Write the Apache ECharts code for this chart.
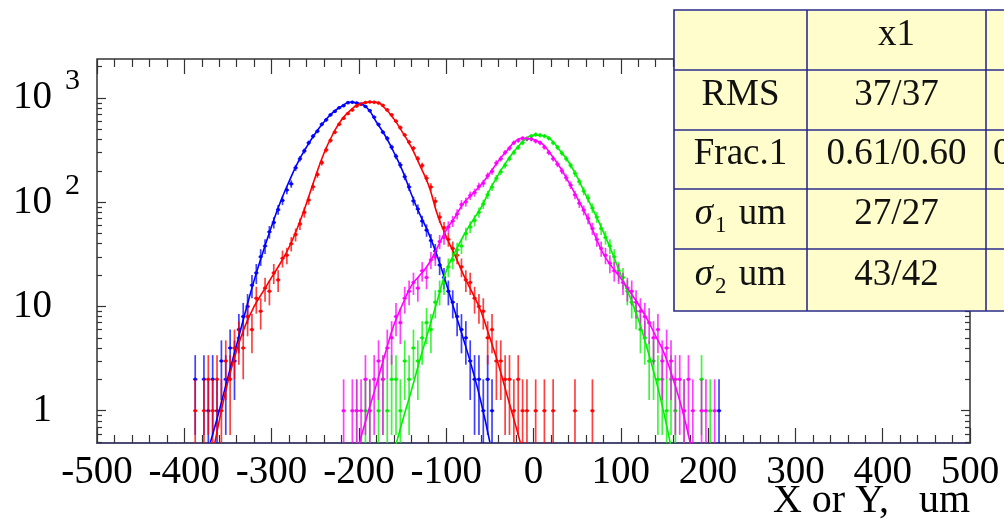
<!DOCTYPE html>
<html>
<head>
<meta charset="utf-8">
<script src="https://cdn.jsdelivr.net/npm/echarts@6/dist/echarts.min.js"></script>
<style>
html, body { margin: 0; padding: 0; background: #fff; }
#chart { width: 1004px; height: 519px; }
</style>
</head>
<body>
<div id="chart"></div>
<script>
// histogram bins are 5 um wide, counts given from the first bin centre
const binWidth = 5;

const blueStart = -387.5;
const blueCounts = [2,0,2,1,2,1,3,2,4,3,6,8,10,16,21,30,38,52,64,85,104,131,150,214,262,311,372,430,481,560,618,690,745,808,846,903,912,896,872,830,757,655,558,470,410,338,276,228,176,140,103,86,66,54,43,34,25,19,14,11,8,6,5,3,2,2,1,2,1];
const blueExtraX = [212.5];
const blueExtraCounts = [1];

const redStart = -387.5;
const redCounts = [1,0,1,2,1,2,1,3,2,4,5,4,8,6,12,9,15,14,21,18,29,31,40,49,62,80,105,141,185,240,318,392,470,560,640,710,768,838,870,905,918,912,896,850,770,690,600,520,442,378,330,262,225,170,140,102,72,57,44,36,31,24,18,17,12,10,9,5,6,3,3,2,2,1,2,1,1,0,1,0,1,0,1,0,0,0,0,1,0,0,0,1];

const greenStart = -202.5;
const greenCounts = [1,0,1,1,0,1,2,1,2,2,1,3,2,4,3,5,7,6,11,14,17,24,28,35,38,50,58,67,80,96,118,140,170,196,226,262,300,336,372,405,430,446,440,432,412,372,336,296,262,226,190,158,128,110,88,72,56,46,38,30,22,19,14,11,9,6,5,3,3,2,2,1,2,1,0,1,0,0,0,2,0,1];

const magentaStart = -217.5;
const magentaCounts = [1,0,1,1,1,2,1,2,3,2,4,5,8,7,12,14,17,15,22,19,28,30,42,46,58,66,77,95,101,116,124,142,152,180,198,238,262,300,330,372,392,410,408,404,386,372,338,300,262,232,200,172,146,118,98,84,70,56,44,36,31,26,22,21,17,15,14,11,9,8,7,5,6,3,4,3,2,2,1,2,1,0,1,1,0,1];

// fitted curves
const blueFitX = [-370,-360,-350,-340,-330,-320,-310,-300,-290,-280,-270,-260,-250,-240,-230,-220,-210,-200,-190,-180,-170,-160,-150,-140,-130,-120,-110,-100,-90,-80,-70,-60,-50];
const blueFitY = [0.5,1.0,2.1,4.3,8.9,17.8,33,59,100,158,240,339,457,589,724,832,912,891,794,589,437,302,200,120,76,50,30,16.6,8.9,4.8,2.5,1.2,0.5];

const redFitX = [-365,-360,-350,-340,-330,-320,-310,-300,-290,-280,-270,-260,-250,-240,-230,-220,-210,-200,-190,-180,-170,-160,-150,-140,-130,-120,-110,-100,-90,-80,-70,-60,-50,-40,-30,-20,-15];
const redFitY = [0.49,0.8,1.9,3.8,6.6,10,13.8,19,26,37,58,98,174,295,447,617,759,871,912,912,794,631,468,339,224,145,76,47,31,20,13.5,8.9,5,2.75,1.38,0.7,0.49];

const greenFitX = [-160,-150,-140,-130,-120,-110,-100,-90,-80,-70,-60,-50,-40,-30,-20,-10,0,10,20,30,40,50,60,70,80,90,100,110,120,130,140,150,160];
const greenFitY = [0.4,0.8,1.55,3.1,6,11.5,21.9,33,48,66,89,132,186,251,324,398,442,437,398,316,245,174,117,79,52,33,20,12.6,7.6,4,2,0.9,0.35];

const magentaFitX = [-200,-190,-180,-170,-160,-150,-140,-130,-120,-110,-100,-90,-80,-70,-60,-50,-40,-30,-20,-10,0,10,20,30,40,50,60,70,80,90,100,110,120,130,140,150,160,170,180];
const magentaFitY = [0.47,0.93,1.78,3.5,6.6,10.5,15.8,20,25.7,37,54,72,98,120,148,190,251,316,389,412,398,363,288,219,158,110,76,49,32,24,18.6,14,10.5,7.6,5.2,3.5,2,1.05,0.47];

const xTickLabels = [-500,-400,-300,-200,-100,0,100,200,300,400,500];
const yMajor = [1, 10, 100, 1000];
const yMinor = [0.5,0.6,0.7,0.8,0.9,2,3,4,5,6,7,8,9,20,30,40,50,60,70,80,90,200,300,400,500,600,700,800,900,2000];

const tableHeader = ['', 'x1'];
const rowLabels = ['RMS', 'Frac.1', '{sig|σ}{sub|1}{t| um}', '{sig|σ}{sub|2}{t| um}'];
const x1Values = ['37/37', '0.61/0.60', '27/27', '43/42'];

const serif = '"Liberation Serif", "DejaVu Serif", serif';

function binsToData(start, counts) {
  const out = [];
  counts.forEach((n, i) => { if (n > 0) out.push([start + i * binWidth, n]); });
  return out;
}
function zip(xs, ys) { return xs.map((x, i) => [x, ys[i]]); }

function errorBars(color) {
  return function (params, api) {
    const x = api.value(0), n = api.value(1);
    const err = Math.sqrt(n);
    const cs = params.coordSys;
    const bottom = cs.y + cs.height;
    const p = api.coord([x, n]);
    const xl = api.coord([x - binWidth / 2, n])[0];
    const xr = api.coord([x + binWidth / 2, n])[0];
    const yHi = Math.max(api.coord([x, n + err])[1], cs.y);
    const lo = n - err;
    const yLo = lo > 0.05 ? Math.min(api.coord([x, lo])[1], bottom) : bottom;
    const st = { stroke: color, lineWidth: 1.7, opacity: 0.75 };
    return {
      type: 'group',
      children: [
        { type: 'line', shape: { x1: p[0], y1: yHi, x2: p[0], y2: yLo }, style: st },
        { type: 'line', shape: { x1: xl, y1: p[1], x2: xr, y2: p[1] }, style: st },
        { type: 'circle', shape: { cx: p[0], cy: p[1], r: 1.8 }, style: { fill: color, opacity: 0.9 } }
      ]
    };
  };
}

function histSeries(data, color) {
  return {
    type: 'custom', xAxisIndex: 0, yAxisIndex: 0,
    renderItem: errorBars(color), data: data,
    encode: { x: 0, y: 1 }, clip: true, z: 3
  };
}
function fitSeries(data, color) {
  return {
    type: 'line', xAxisIndex: 0, yAxisIndex: 0, data: data,
    smooth: true, showSymbol: false, clip: true, z: 4,
    lineStyle: { color: color, width: 1.6 }
  };
}

const blueData = binsToData(blueStart, blueCounts).concat(zip(blueExtraX, blueExtraCounts));

const tickStyle = { color: '#333', width: 1.2 };
const xAxisBase = {
  type: 'value', min: -500, max: 500, interval: 100,
  splitLine: { show: false },
  axisTick: { inside: true, length: 15, lineStyle: tickStyle },
  minorTick: { show: true, splitNumber: 5, length: 8, lineStyle: tickStyle }
};
const yAxisBase = {
  type: 'log', min: 0.49, max: 2370, logBase: 10,
  splitLine: { show: false }, axisLine: { show: false, onZero: false }
};

// table built from rows and column edges, drawn over the plot
const colEdges = [674, 807, 986, 1012];
const rowEdges = [10, 70, 130, 189, 249, 311];
const tableEls = [];
const border = { stroke: '#2b2b8c', lineWidth: 1.6 };
tableEls.push({ type: 'rect', z: 100, shape: { x: colEdges[0], y: rowEdges[0], width: colEdges[3] - colEdges[0], height: rowEdges[5] - rowEdges[0] },
  style: Object.assign({ fill: '#fefdcb' }, border) });
colEdges.slice(1, 3).forEach(cx => tableEls.push({ type: 'line', z: 101, shape: { x1: cx, y1: rowEdges[0], x2: cx, y2: rowEdges[5] }, style: border }));
rowEdges.slice(1, 5).forEach(ry => tableEls.push({ type: 'line', z: 101, shape: { x1: colEdges[0], y1: ry, x2: colEdges[3], y2: ry }, style: border }));
const cellFont = { fontFamily: serif, fontSize: 37, fill: '#111' };
tableEls.push({ type: 'text', z: 102, x: (colEdges[1] + colEdges[2]) / 2, y: (rowEdges[0] + rowEdges[1]) / 2 - 5,
  style: Object.assign({ text: tableHeader[1], align: 'center', verticalAlign: 'middle' }, cellFont) });
rowLabels.forEach((t, i) => {
  const cy = (rowEdges[i + 1] + rowEdges[i + 2]) / 2 - 5;
  tableEls.push({ type: 'text', z: 102, x: (colEdges[0] + colEdges[1]) / 2, y: cy,
    style: Object.assign({ text: t, align: 'center', verticalAlign: 'middle',
      rich: {
        sig: { fontFamily: serif, fontSize: 37, fontStyle: 'italic', fill: '#111', verticalAlign: 'middle' },
        sub: { fontFamily: serif, fontSize: 23, fill: '#111', padding: [24, 3, 0, 2], verticalAlign: 'middle' },
        t: { fontFamily: serif, fontSize: 37, fill: '#111', verticalAlign: 'middle' }
      } }, cellFont) });
  tableEls.push({ type: 'text', z: 102, x: (colEdges[1] + colEdges[2]) / 2, y: cy,
    style: Object.assign({ text: x1Values[i], align: 'center', verticalAlign: 'middle' }, cellFont) });
});
tableEls.push({ type: 'text', z: 102, x: 993, y: (rowEdges[2] + rowEdges[3]) / 2 - 5,
  style: Object.assign({ text: '0.6', align: 'left', verticalAlign: 'middle' }, cellFont) });

const chart = echarts.init(document.getElementById('chart'), null, { renderer: 'canvas' });
chart.setOption({
  animation: false,
  grid: { left: 97, right: 34, top: 59, bottom: 76, containLabel: false, outerBoundsMode: 'none',
    show: true, borderColor: '#333', borderWidth: 1.5 },
  xAxis: [
    Object.assign({}, xAxisBase, {
      position: 'bottom',
      axisLine: { show: true, onZero: false, lineStyle: { color: '#4a4a74', width: 2 } },
      axisLabel: {
        customValues: xTickLabels, margin: 10, hideOverlap: false,
        fontFamily: serif, fontSize: 39, color: '#000',
        formatter: v => String(v)
      },
      name: 'X or Y,   um', nameLocation: 'end', nameGap: 0, nameMoveOverlap: false,
      nameTextStyle: { fontFamily: serif, fontSize: 40, color: '#000', align: 'right', verticalAlign: 'top', padding: [38, 0, 0, 0] }
    }),
    Object.assign({}, xAxisBase, {
      position: 'top', axisLine: { show: false, onZero: false }, axisLabel: { show: false }
    })
  ],
  yAxis: [
    Object.assign({}, yAxisBase, {
      position: 'left',
      axisTick: { inside: true, length: 9, customValues: yMajor, lineStyle: tickStyle },
      axisLabel: {
        customValues: yMajor, margin: 17, color: '#000',
        formatter: v => {
          const e = Math.round(Math.log10(v));
          return e < 2 ? '{n|' + Math.round(v) + '}{s| }' : '{n|10}{s|' + e + '}';
        },
        rich: {
          n: { fontFamily: serif, fontSize: 39, verticalAlign: 'middle', color: '#000' },
          s: { fontFamily: serif, fontSize: 30, width: 16, verticalAlign: 'middle', padding: [0, 0, 33, 12], color: '#000' }
        }
      }
    }),
    Object.assign({}, yAxisBase, {
      position: 'left', axisLabel: { show: false },
      axisTick: { inside: true, length: 5, customValues: yMinor, lineStyle: tickStyle }
    }),
    Object.assign({}, yAxisBase, {
      position: 'right', axisLabel: { show: false },
      axisTick: { inside: true, length: 9, customValues: yMajor, lineStyle: tickStyle }
    }),
    Object.assign({}, yAxisBase, {
      position: 'right', axisLabel: { show: false },
      axisTick: { inside: true, length: 5, customValues: yMinor, lineStyle: tickStyle }
    })
  ],
  series: [
    histSeries(blueData, '#0000ff'),
    histSeries(binsToData(redStart, redCounts), '#ff0000'),
    histSeries(binsToData(greenStart, greenCounts), '#00f000'),
    histSeries(binsToData(magentaStart, magentaCounts), '#ff00ff'),
    fitSeries(zip(blueFitX, blueFitY), '#0000ff'),
    fitSeries(zip(redFitX, redFitY), '#ff0000'),
    fitSeries(zip(greenFitX, greenFitY), '#00f000'),
    fitSeries(zip(magentaFitX, magentaFitY), '#ff00ff')
  ],
  graphic: [{ type: 'group', z: 100, children: tableEls }]
});
</script>
</body>
</html>
